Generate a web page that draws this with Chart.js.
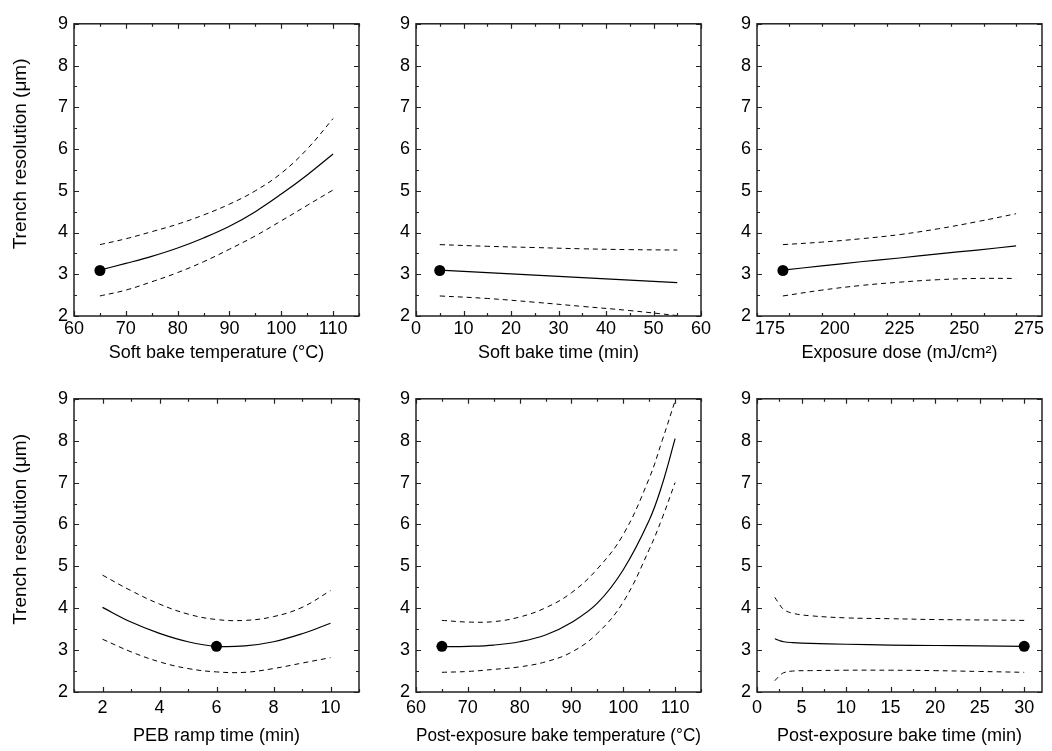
<!DOCTYPE html>
<html>
<head>
<meta charset="utf-8">
<script src="https://cdn.jsdelivr.net/npm/chart.js@4.4.1/dist/chart.umd.min.js"></script>
<style>
  body { margin: 0; background: #fff; width: 1052px; height: 751px; position: relative; overflow: hidden; }
  canvas { position: absolute; }
</style>
</head>
<body>
<script>
// Shared y axis
const yTicks = [2, 3, 4, 5, 6, 7, 8, 9];
const yTitle = 'Trench resolution (μm)';

// Soft bake temperature
const sbTempX = [65, 70, 75, 80, 85, 90, 95, 100, 105, 110];
const sbTempFit = [3.10, 3.26, 3.43, 3.63, 3.87, 4.15, 4.50, 4.92, 5.38, 5.88];
const sbTempUp = [3.71, 3.85, 4.02, 4.20, 4.42, 4.68, 5.00, 5.42, 6.00, 6.73];
const sbTempLo = [2.48, 2.62, 2.82, 3.04, 3.30, 3.60, 3.92, 4.28, 4.65, 5.02];
const sbTempTicks = [60, 70, 80, 90, 100, 110];

// Soft bake time
const sbTimeX = [5, 15, 25, 35, 45, 55];
const sbTimeFit = [3.10, 3.04, 2.98, 2.92, 2.86, 2.80];
const sbTimeUp = [3.71, 3.67, 3.64, 3.61, 3.59, 3.58];
const sbTimeLo = [2.48, 2.42, 2.33, 2.23, 2.13, 2.01];
const sbTimeTicks = [0, 10, 20, 30, 40, 50, 60];

// Exposure dose
const doseX = [180, 195, 210, 225, 240, 255, 270];
const doseFit = [3.10, 3.20, 3.30, 3.39, 3.49, 3.58, 3.68];
const doseUp = [3.71, 3.77, 3.85, 3.95, 4.09, 4.26, 4.45];
const doseLo = [2.48, 2.62, 2.73, 2.81, 2.87, 2.90, 2.90];
const doseTicks = [175, 200, 225, 250, 275];

// PEB ramp time
const rampX = [2, 3, 4, 5, 6, 7, 8, 9, 10];
const rampFit = [4.02, 3.67, 3.40, 3.20, 3.09, 3.10, 3.20, 3.39, 3.64];
const rampUp = [4.79, 4.42, 4.10, 3.86, 3.73, 3.71, 3.80, 4.02, 4.42];
const rampLo = [3.26, 2.96, 2.72, 2.56, 2.48, 2.47, 2.56, 2.69, 2.82];
const rampTicks = [2, 4, 6, 8, 10];

// Post-exposure bake temperature
const pebTempX = [65, 70, 75, 80, 85, 90, 95, 100, 105, 107.5, 110];
const pebTempFit = [3.08, 3.09, 3.12, 3.20, 3.36, 3.66, 4.12, 4.92, 6.10, 6.95, 8.05];
const pebTempUp = [3.71, 3.67, 3.68, 3.79, 4.01, 4.37, 4.94, 5.76, 7.10, 8.00, 8.95];
const pebTempLo = [2.47, 2.49, 2.54, 2.60, 2.72, 2.95, 3.40, 4.15, 5.40, 6.15, 7.00];
const pebTempTicks = [60, 70, 80, 90, 100, 110];

// Post-exposure bake time
const pebTimeX = [2, 2.5, 3, 4, 6, 10, 15, 20, 25, 30];
const pebTimeFit = [3.27, 3.23, 3.20, 3.18, 3.16, 3.14, 3.12, 3.11, 3.10, 3.09];
const pebTimeUp = [4.26, 4.10, 3.97, 3.88, 3.82, 3.77, 3.75, 3.73, 3.72, 3.71];
const pebTimeLo = [2.27, 2.38, 2.46, 2.50, 2.51, 2.52, 2.52, 2.51, 2.49, 2.47];
const pebTimeTicks = [0, 5, 10, 15, 20, 25, 30];

// Optimum points
const sbTempOpt = [65, 3.09];
const sbTimeOpt = [5, 3.09];
const doseOpt = [180, 3.09];
const rampOpt = [6, 3.09];
const pebTempOpt = [65, 3.09];
const pebTimeOpt = [30, 3.09];

const FONT = "'Liberation Sans', Arial, Helvetica, sans-serif";

// inward ticks on all four sides + box
const framePlugin = {
  id: 'frame',
  afterDatasetsDraw(chart, args, opts) {
    const { ctx, chartArea: a, scales: { x, y } } = chart;
    ctx.save();
    ctx.strokeStyle = '#222';
    ctx.lineWidth = 1.2;
    ctx.beginPath();
    const near = (v, list) => list.some(t => Math.abs(t - v) < 1e-6);
    for (let v = x.min; v <= x.max + 1e-6; v += opts.xMinor) {
      const px = Math.round(x.getPixelForValue(v)) + 0.5;
      const len = near(v, opts.xMajor) ? 5 : 3;
      ctx.moveTo(px, a.bottom); ctx.lineTo(px, a.bottom - len);
      ctx.moveTo(px, a.top); ctx.lineTo(px, a.top + len);
    }
    for (let v = y.min; v <= y.max + 1e-6; v += 0.5) {
      const py = Math.round(y.getPixelForValue(v)) + 0.5;
      const len = near(v, yTicks) ? 5 : 3;
      ctx.moveTo(a.left, py); ctx.lineTo(a.left + len, py);
      ctx.moveTo(a.right, py); ctx.lineTo(a.right - len, py);
    }
    ctx.stroke();
    ctx.lineWidth = 1.5;
    ctx.strokeRect(a.left, a.top, a.right - a.left, a.bottom - a.top);
    ctx.restore();
  }
};

// rotated y title, sitting a little above the plot centre like the original
const yTitlePlugin = {
  id: 'ytitle',
  afterDraw(chart, args, opts) {
    if (!opts.show) return;
    const { ctx, chartArea: a } = chart;
    ctx.save();
    ctx.translate(opts.x, (a.top + a.bottom) / 2 - 16);
    ctx.rotate(-Math.PI / 2);
    ctx.font = '19px ' + FONT;
    ctx.fillStyle = '#000';
    ctx.textAlign = 'center';
    ctx.textBaseline = 'middle';
    ctx.fillText(yTitle, 0, 0);
    ctx.restore();
  }
};

function panel(cfg) {
  const yW = cfg.left ? 74 : 50;
  const padTop = 12, padRight = 24, xH = 60;
  const c = document.createElement('canvas');
  const w = yW + (cfg.R - cfg.L) + padRight;
  const h = padTop + (cfg.B - cfg.T) + xH;
  c.width = w; c.height = h;
  c.style.left = (cfg.L - yW) + 'px';
  c.style.top = (cfg.T - padTop) + 'px';
  c.style.width = w + 'px'; c.style.height = h + 'px';
  document.body.appendChild(c);

  const pts = (xs, ys) => xs.map((v, i) => ({ x: v, y: ys[i] }));
  const line = (ys, dash, width) => ({
    data: pts(cfg.xs, ys),
    borderColor: '#000',
    borderWidth: width,
    borderDash: dash,
    pointRadius: 0,
    fill: false,
    tension: 0.4
  });

  new Chart(c.getContext('2d'), {
    type: 'line',
    data: {
      datasets: [
        line(cfg.up, [5, 4], 1),
        line(cfg.lo, [5, 4], 1),
        line(cfg.fit, [], 1.2),
        {
          data: [{ x: cfg.opt[0], y: cfg.opt[1] }],
          showLine: false,
          pointRadius: 5.5,
          pointBackgroundColor: '#000',
          pointBorderColor: '#000',
          pointBorderWidth: 0
        }
      ]
    },
    options: {
      responsive: false,
      animation: false,
      devicePixelRatio: 1,
      layout: { padding: { top: padTop, right: padRight, left: 0, bottom: 0 } },
      plugins: {
        legend: { display: false },
        tooltip: { enabled: false },
        frame: { xMinor: cfg.minor, xMajor: cfg.ticks },
        ytitle: { show: cfg.left, x: 21 - (cfg.L - yW) }
      },
      scales: {
        x: {
          type: 'linear',
          min: cfg.min, max: cfg.max,
          afterBuildTicks: s => { s.ticks = cfg.ticks.map(v => ({ value: v })); },
          afterFit: s => { s.height = xH; },
          grid: { display: false, drawTicks: false },
          border: { display: false },
          ticks: { color: '#000', padding: cfg.tickPad, font: { family: FONT, size: 18 }, maxRotation: 0 },
          title: {
            display: true, text: cfg.title, color: '#000',
            font: { family: FONT, size: 18 },
            padding: { top: 0, bottom: cfg.titlePad }
          }
        },
        y: {
          min: 2, max: 9,
          afterBuildTicks: s => { s.ticks = yTicks.map(v => ({ value: v })); },
          afterFit: s => { s.width = yW; },
          grid: { display: false, drawTicks: false },
          border: { display: false },
          ticks: { color: '#000', padding: 6, font: { family: FONT, size: 18 } }
        }
      }
    },
    plugins: [framePlugin, yTitlePlugin]
  });
}

const top1 = { T: 19, B: 316, tickPad: 2, titlePad: 12 };
const bot1 = { T: 394, B: 692, tickPad: 5, titlePad: 5 };

panel({ ...top1, L: 74, R: 359, left: true, min: 60, max: 115, minor: 5,
  xs: sbTempX, fit: sbTempFit, up: sbTempUp, lo: sbTempLo, opt: sbTempOpt,
  ticks: sbTempTicks, title: 'Soft bake temperature (°C)' });
panel({ ...top1, L: 416, R: 701, left: false, min: 0, max: 60, minor: 5,
  xs: sbTimeX, fit: sbTimeFit, up: sbTimeUp, lo: sbTimeLo, opt: sbTimeOpt,
  ticks: sbTimeTicks, title: 'Soft bake time (min)' });
panel({ ...top1, L: 757, R: 1042, left: false, min: 170, max: 280, minor: 12.5,
  xs: doseX, fit: doseFit, up: doseUp, lo: doseLo, opt: doseOpt,
  ticks: doseTicks, title: 'Exposure dose (mJ/cm²)' });
panel({ ...bot1, L: 74, R: 359, left: true, min: 1, max: 11, minor: 1,
  xs: rampX, fit: rampFit, up: rampUp, lo: rampLo, opt: rampOpt,
  ticks: rampTicks, title: 'PEB ramp time (min)' });
panel({ ...bot1, L: 416, R: 701, left: false, min: 60, max: 115, minor: 5,
  xs: pebTempX, fit: pebTempFit, up: pebTempUp, lo: pebTempLo, opt: pebTempOpt,
  ticks: pebTempTicks, title: 'Post-exposure bake temperature (°C)' });
panel({ ...bot1, L: 757, R: 1042, left: false, min: 0, max: 32, minor: 2.5,
  xs: pebTimeX, fit: pebTimeFit, up: pebTimeUp, lo: pebTimeLo, opt: pebTimeOpt,
  ticks: pebTimeTicks, title: 'Post-exposure bake time (min)' });
</script>
</body>
</html>
